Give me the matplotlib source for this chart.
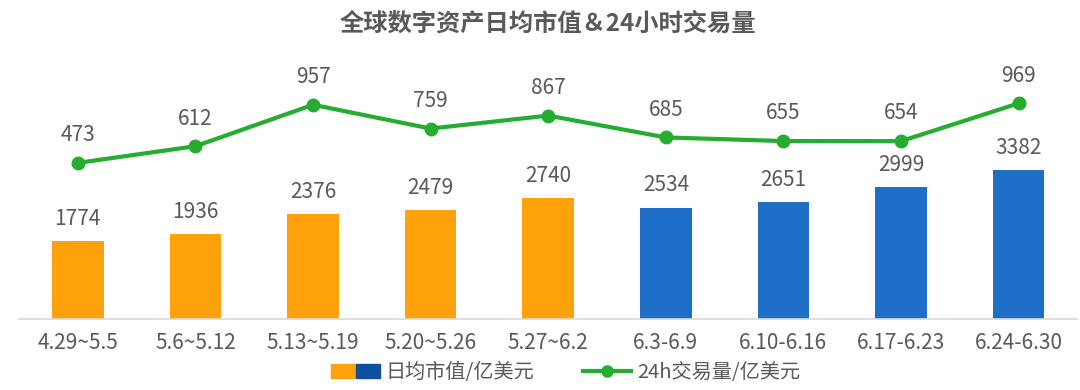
import matplotlib
matplotlib.use('Agg')
import matplotlib.pyplot as plt
from matplotlib.patches import Patch
from matplotlib.lines import Line2D
from matplotlib.legend_handler import HandlerTuple

plt.rcParams['font.family'] = ['Noto Sans CJK SC', 'DejaVu Sans']

weeks = ['4.29~5.5', '5.6~5.12', '5.13~5.19', '5.20~5.26', '5.27~6.2',
         '6.3-6.9', '6.10-6.16', '6.17-6.23', '6.24-6.30']
market_cap = [1774, 1936, 2376, 2479, 2740, 2534, 2651, 2999, 3382]
volume_24h = [473, 612, 957, 759, 867, 685, 655, 654, 969]
n_orange = 5

orange = '#FFA10A'
blue = '#1E6FC8'
green = '#24AD2F'
grey = '#595959'

fig = plt.figure(figsize=(10.8, 3.9), dpi=100)
ax = fig.add_axes([0.0176, 0.182, 0.98, 0.703])
ax2 = ax.twinx()

x = list(range(len(weeks)))
colors = [orange if i < n_orange else blue for i in x]
ax.bar(x, market_cap, width=0.44, color=colors, zorder=2)
for i, v in zip(x, market_cap):
    ax.annotate(str(v), (i, v), xytext=(0, 8), textcoords='offset points',
                ha='center', va='bottom', fontsize=15, color=grey)

ax2.plot(x, volume_24h, color=green, lw=3, marker='o', ms=9, zorder=3)
for i, v in zip(x, volume_24h):
    ax2.annotate(str(v), (i, v), xytext=(0, 12), textcoords='offset points',
                 ha='center', va='bottom', fontsize=15, color=grey)

ax.set_xlim(-0.5, 8.5)
ax.set_ylim(0, 6230)
ax2.set_ylim(-827, 1456)

ax.set_xticks(x)
ax.set_xticklabels(weeks, fontsize=15, color=grey)
ax.tick_params(axis='x', length=0, pad=9)
ax.set_yticks([])
ax2.set_yticks([])
for a in (ax, ax2):
    for s in ['top', 'right', 'left']:
        a.spines[s].set_visible(False)
ax.spines['bottom'].set_color('#D9D9D9')
ax.spines['bottom'].set_linewidth(1.2)
ax2.spines['bottom'].set_visible(False)

fig.text(0.507, 0.94, '全球数字资产日均市值＆24小时交易量', ha='center', va='center',
         fontsize=17.5, fontweight='bold', color=grey)

h_bar = (Patch(color=orange), Patch(color='#0E4F9E'))
h_line = Line2D([], [], color=green, lw=3, marker='o', ms=8)
fig.legend([h_bar, h_line], ['日均市值/亿美元', '24h交易量/亿美元'],
           handler_map={tuple: HandlerTuple(ndivide=None, pad=0)},
           loc='center', bbox_to_anchor=(0.524, 0.045), ncol=2, frameon=False,
           fontsize=14.5, labelcolor=grey, handlelength=2.4, handletextpad=0.3,
           columnspacing=2.4)

fig.savefig('out.png', dpi=100)
